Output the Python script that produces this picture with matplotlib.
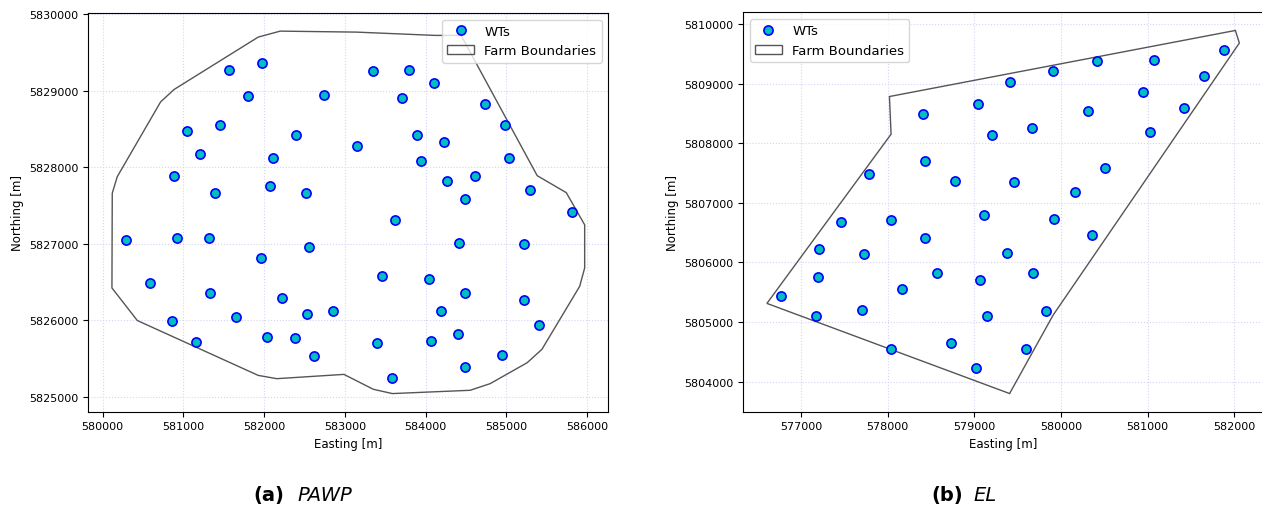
import matplotlib
matplotlib.use("Agg")
import matplotlib.pyplot as plt
from matplotlib.patches import Polygon

# ---- PAWP farm ----
pawp_wt_e = [581570, 581975, 581801, 581045, 581458, 581201, 582388, 582112, 580883, 581387,
             582070, 582521,
             583344, 583794, 584104, 582740, 583707, 584733, 584981, 583149, 583893, 584233,
             583943, 585031, 584270, 584609, 585288, 584489, 585813,
             580283, 580924, 581313, 581958, 582550, 580586, 581334, 582218, 580859, 581656,
             582534, 581156, 582032, 582376, 582620,
             583625, 584419, 585213, 583463, 584038, 584489, 585213, 582851, 584187, 585400,
             584407, 583393, 584063, 584944, 584489, 583588]
pawp_wt_n = [5829279, 5829370, 5828927, 5828470, 5828556, 5828174, 5828418, 5828122, 5827887, 5827669,
             5827761, 5827669,
             5829266, 5829279, 5829100, 5828943, 5828904, 5828826, 5828556, 5828274, 5828418, 5828327,
             5828083, 5828118, 5827822, 5827891, 5827709, 5827591, 5827414,
             5827048, 5827074, 5827074, 5826817, 5826961, 5826482, 5826352, 5826292, 5825996, 5826048,
             5826083, 5825709, 5825774, 5825761, 5825530,
             5827309, 5827013, 5827000, 5826574, 5826539, 5826352, 5826266, 5826126, 5826126, 5825931,
             5825813, 5825700, 5825722, 5825543, 5825387, 5825248]

pawp_bnd_e = [580114, 580118, 580180, 580717, 580883, 581926, 582199, 583145, 584117, 584439,
              585382, 585742, 585970, 585970, 585908, 585440, 585258, 584799, 584551, 583588,
              583352, 582988, 582156, 581926, 580428]
pawp_bnd_n = [5826422, 5827661, 5827878, 5828856, 5829018, 5829704, 5829782, 5829769, 5829726, 5829726,
              5827891, 5827669, 5827248, 5826683, 5826443, 5825618, 5825444, 5825170, 5825083, 5825040,
              5825096, 5825291, 5825235, 5825278, 5825996]

# ---- EL farm ----
el_wt_e = [578414, 578426, 577790, 578780,
           577466, 578040, 578434, 577208, 577732, 577197, 578572, 578168, 576772, 577173,
           577709, 578040, 578726,
           579108, 579921, 580364, 579374, 579682, 579066, 579147, 579829, 579601, 579020,
           581882, 581651, 581073, 580422, 579910, 579408, 580946, 581424, 579043, 580318,
           579667, 579208, 581027, 580511, 579454, 580160]
el_wt_n = [5808497, 5807697, 5807484, 5807366,
           5806672, 5806706, 5806408, 5806224, 5806139, 5805758, 5805825, 5805556, 5805439, 5805092,
           5805193, 5804543, 5804644,
           5806790, 5806723, 5806454, 5806156, 5805825, 5805708, 5805097, 5805182, 5804548, 5804235,
           5809563, 5809126, 5809395, 5809378, 5809215, 5809030, 5808862, 5808598, 5808661, 5808548,
           5808252, 5808134, 5808185, 5807585, 5807350, 5807187]

el_bnd_e = [578021, 578040, 576607, 579408, 579910, 582060, 582014]
el_bnd_n = [5808783, 5808151, 5805311, 5803798, 5805114, 5809681, 5809892]

W, H = 1262, 510
fig = plt.figure(figsize=(W / 100, H / 100), dpi=100)
ax1 = fig.add_axes([88.3 / W, 97.3 / H, 520.0 / W, 398.7 / H])
ax2 = fig.add_axes([743.3 / W, 97.3 / H, 519.7 / W, 399.4 / H])


def draw_farm(ax, wt_e, wt_n, bnd_e, bnd_n, legend_loc):
    poly = Polygon(list(zip(bnd_e, bnd_n)), closed=True, fill=False,
                   edgecolor='#555555', linewidth=1.0, label='Farm Boundaries')
    ax.add_patch(poly)
    wt, = ax.plot(wt_e, wt_n, 'o', linestyle='none', markersize=6.6,
                  markerfacecolor='#00bfbf', markeredgecolor='#0000ff',
                  markeredgewidth=1.2, label='WTs')
    ax.autoscale_view()
    ax.grid(True, color='#d4d4f4', linestyle=':', linewidth=0.8)
    ax.set_axisbelow(True)
    ax.ticklabel_format(useOffset=False, style='plain')
    ax.tick_params(labelsize=8)
    ax.set_xlabel('Easting [m]', fontsize=8.5)
    ax.set_ylabel('Northing [m]', fontsize=8.5)
    ax.legend(handles=[wt, poly], loc=legend_loc, fontsize=9.5)


draw_farm(ax1, pawp_wt_e, pawp_wt_n, pawp_bnd_e, pawp_bnd_n, 'upper right')
draw_farm(ax2, el_wt_e, el_wt_n, el_bnd_e, el_bnd_n, 'upper left')

# sub captions
fig.text(284 / W, 14 / H, '(a)', fontsize=14, fontweight='bold', ha='right', va='center')
fig.text(297 / W, 14 / H, 'PAWP', fontsize=14, fontstyle='italic', ha='left', va='center')
fig.text(963 / W, 14 / H, '(b)', fontsize=14, fontweight='bold', ha='right', va='center')
fig.text(973 / W, 14 / H, 'EL', fontsize=14, fontstyle='italic', ha='left', va='center')

fig.savefig('out.png', dpi=100)
